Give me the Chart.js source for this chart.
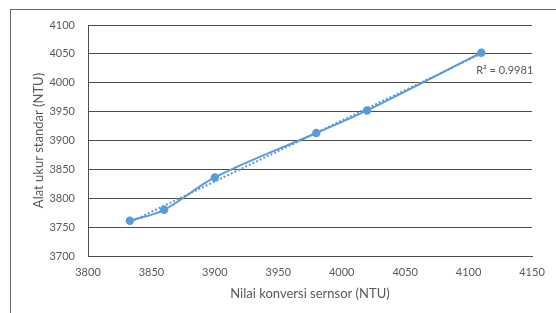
<!DOCTYPE html>
<html><head><meta charset="utf-8">
<script src="https://cdn.jsdelivr.net/npm/chart.js@4/dist/chart.umd.min.js"></script>
<style>
html,body{margin:0;padding:0;background:#fff;}
#wrap{position:relative;width:556px;height:313px;overflow:hidden;}
#frame{position:absolute;left:10px;top:9px;width:600px;height:400px;border-top:1px solid #6a6a6a;border-left:1px solid #6a6a6a;}
canvas{position:absolute;left:0;top:0;}
</style></head>
<body><div id="wrap"><div id="frame"></div><canvas id="c" width="556" height="313"></canvas></div>
<script>
const sensorValues = [3833, 3860, 3900, 3980, 4020, 4110];
const standardValues = [3761, 3780, 3836, 3913, 3952, 4052];
const xTicks = [3800, 3850, 3900, 3950, 4000, 4050, 4100, 4150];
const yTicks = [3700, 3750, 3800, 3850, 3900, 3950, 4000, 4050, 4100];
const r2Label = 'R² = 0.9981';
const xTitle = 'Nilai konversi sernsor (NTU)';
const yTitle = 'Alat ukur standar (NTU)';

// least squares trendline from the data
const n = sensorValues.length;
const mx = sensorValues.reduce((a,b)=>a+b,0)/n;
const my = standardValues.reduce((a,b)=>a+b,0)/n;
let sxy=0, sxx=0;
for(let i=0;i<n;i++){sxy+=(sensorValues[i]-mx)*(standardValues[i]-my);sxx+=(sensorValues[i]-mx)**2;}
const slope=sxy/sxx, icpt=my-slope*mx;
const xMin=Math.min(...sensorValues), xMax=Math.max(...sensorValues);
const trend=[{x:xMin,y:slope*xMin+icpt},{x:xMax,y:slope*xMax+icpt}];

const blue='#5B9BD5';
const txt='#595959';
const gridCol='#4d4d4d';
const fam='Lato, "Open Sans", sans-serif';
const tickFont={family:fam,size:11};
const titleFont={family:fam,size:13};

const r2Plugin={id:'r2',afterDatasetsDraw(chart){
  const {ctx,scales:{x,y}}=chart;
  ctx.save();ctx.font='11px '+fam;ctx.fillStyle=txt;
  ctx.textBaseline='middle';ctx.textAlign='left';
  ctx.fillText(r2Label,x.getPixelForValue(4106),y.getPixelForValue(4021));
  ctx.restore();
}};

new Chart(document.getElementById('c'),{
  type:'scatter',
  data:{datasets:[
    {data:trend,showLine:true,borderColor:blue,borderWidth:2,borderDash:[2,2],pointRadius:0,fill:false,order:2},
    {data:sensorValues.map((v,i)=>({x:v,y:standardValues[i]})),showLine:true,borderColor:blue,backgroundColor:blue,borderWidth:2,tension:0.35,pointRadius:3.2,pointHoverRadius:3.2,fill:false,order:1}
  ]},
  options:{
    responsive:false,animation:false,
    layout:{padding:{left:0,right:24,top:25,bottom:0}},
    plugins:{legend:{display:false},tooltip:{enabled:false}},
    scales:{
      x:{type:'linear',min:3800,max:4150,
        afterBuildTicks(s){s.ticks=xTicks.map(v=>({value:v}));},
        afterFit(s){s.height=57;},
        grid:{display:false,drawTicks:false},
        border:{display:true,color:gridCol,width:1},
        ticks:{color:txt,font:tickFont,padding:10,maxRotation:0,callback:v=>String(v)},
        title:{display:true,text:xTitle,color:txt,font:titleFont,padding:{top:4,bottom:11}}
      },
      y:{type:'linear',min:3700,max:4100,
        afterBuildTicks(s){s.ticks=yTicks.map(v=>({value:v}));},
        afterFit(s){s.width=88;},
        grid:{color:gridCol,lineWidth:1,drawTicks:false},
        border:{display:true,color:gridCol,width:1},
        ticks:{color:txt,font:tickFont,padding:13,callback:v=>String(v)},
        title:{display:true,text:yTitle,color:txt,font:titleFont,padding:{top:31,bottom:0}}
      }
    }
  },
  plugins:[r2Plugin]
});
</script></body></html>
